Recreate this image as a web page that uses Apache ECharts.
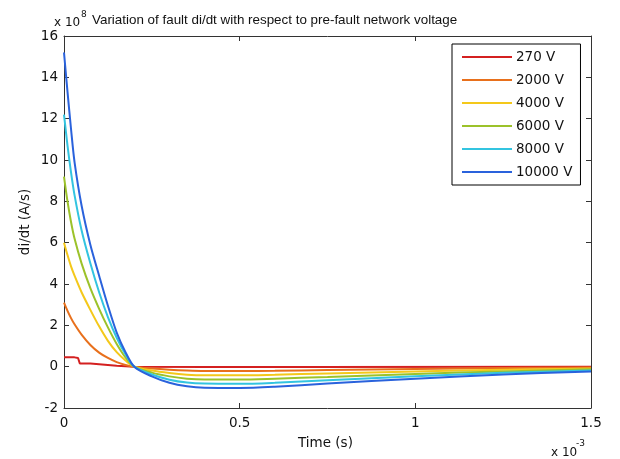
<!DOCTYPE html>
<html>
<head>
<meta charset="utf-8">
<style>
  html, body { margin: 0; padding: 0; background: #fff; }
  #chart { width: 620px; height: 459px; }
</style>
<script src="https://cdn.jsdelivr.net/npm/echarts@6/dist/echarts.min.js"></script>
</head>
<body>
<div id="chart"></div>
<script>
// time in units of 1e-3 s, di/dt in units of 1e8 A/s
const timeMs = [0, 0.01, 0.02, 0.03, 0.05, 0.075, 0.1, 0.125, 0.15, 0.175, 0.2, 0.25, 0.3, 0.35, 0.4, 0.5, 0.6, 0.75, 1.0, 1.25, 1.5]

const v2000 = [3.1, 2.7, 2.35, 2.05, 1.55, 1.05, 0.68, 0.42, 0.22, 0.08, 0, -0.09, -0.15, -0.19, -0.21, -0.21, -0.2, -0.16, -0.11, -0.07, -0.04]
const v4000 = [6.0, 5.4, 4.85, 4.4, 3.6, 2.75, 1.95, 1.25, 0.7, 0.3, 0, -0.19, -0.31, -0.39, -0.42, -0.42, -0.39, -0.33, -0.23, -0.15, -0.09]
const v6000 = [9.2, 8.0, 7.0, 6.2, 5.0, 3.8, 2.8, 1.9, 1.1, 0.45, 0, -0.29, -0.47, -0.58, -0.62, -0.62, -0.58, -0.5, -0.35, -0.23, -0.13]
const v8000 = [12.2, 10.7, 9.4, 8.3, 6.6, 5.0, 3.6, 2.4, 1.4, 0.6, 0, -0.38, -0.63, -0.77, -0.82, -0.83, -0.78, -0.66, -0.46, -0.3, -0.18]
const v10000 = [15.2, 13.3, 11.5, 9.9, 7.8, 5.9, 4.4, 2.95, 1.65, 0.7, 0, -0.47, -0.78, -0.95, -1.02, -1.03, -0.97, -0.82, -0.58, -0.38, -0.23]

// the 270 V trace is step-like
const time270 = [0, 0.03, 0.04, 0.045, 0.075, 0.08, 0.15, 0.2, 0.4, 0.7, 1.5]
const v270 = [0.45, 0.45, 0.42, 0.15, 0.15, 0.08, 0.05, 0, -0.02, -0.02, 0]

const seriesNames = ['270 V', '2000 V', '4000 V', '6000 V', '8000 V', '10000 V']
const seriesColors = ['#d42020', '#e8701c', '#f4c81a', '#9cc22a', '#33c4e0', '#2a62dc']

const xTicks = [0, 0.5, 1, 1.5]
const yTicks = [-2, 0, 2, 4, 6, 8, 10, 12, 14, 16]

const zip = (xs, ys) => xs.map((x, i) => [x, ys[i]])
const seriesValues = [
  zip(time270, v270),
  zip(timeMs, v2000),
  zip(timeMs, v4000),
  zip(timeMs, v6000),
  zip(timeMs, v8000),
  zip(timeMs, v10000),
]

const font = 'Liberation Sans, Arial, sans-serif'
const wideFont = 'DejaVu Sans, sans-serif'
const axisColor = '#333'

const chart = echarts.init(document.getElementById('chart'))

const baseAxis = {
  axisLine: { show: true, onZero: false, lineStyle: { color: axisColor, width: 1 } },
  axisTick: { show: true, inside: true, length: 5, lineStyle: { color: axisColor } },
  splitLine: { show: false },
}

const option = {
  animation: false,
  backgroundColor: '#fff',
  grid: { left: 64, right: 29, top: 36, bottom: 51 },
  legend: {
    data: seriesNames,
    orient: 'vertical',
    left: 452,
    top: 44,
    icon: 'rect',
    itemWidth: 50,
    itemHeight: 2,
    itemGap: 9,
    padding: [6, 8, 6, 10],
    borderColor: '#000',
    borderWidth: 1,
    backgroundColor: '#fff',
    textStyle: { fontFamily: wideFont, fontSize: 13.5, color: '#111', padding: [0, 0, 0, -1] },
  },
  xAxis: [
    {
      ...baseAxis,
      type: 'value',
      min: 0,
      max: 1.5,
      interval: 0.5,
      axisLabel: { margin: 8, fontFamily: wideFont, fontSize: 13.5, color: '#111', formatter: (v) => String(v) },
    },
    {
      ...baseAxis,
      type: 'value',
      position: 'top',
      min: 0,
      max: 1.5,
      interval: 0.5,
      axisLabel: { show: false },
    },
  ],
  yAxis: [
    {
      ...baseAxis,
      type: 'value',
      min: -2,
      max: 16,
      interval: 2,
      axisLabel: { margin: 6, fontFamily: wideFont, fontSize: 13.5, color: '#111' },
    },
    {
      ...baseAxis,
      type: 'value',
      position: 'right',
      min: -2,
      max: 16,
      interval: 2,
      axisLabel: { show: false },
    },
  ],
  series: seriesNames.map((name, i) => ({
    name: name,
    type: 'line',
    data: seriesValues[i],
    showSymbol: false,
    symbol: 'none',
    smooth: i === 0 ? false : 0.3,
    color: seriesColors[i],
    lineStyle: { width: 2, color: seriesColors[i] },
    z: 2 + i,
  })),
  graphic: [
    { type: 'text', left: 54, top: 17, style: { text: 'x 10', font: '12px ' + wideFont, fill: '#111' } },
    { type: 'text', left: 81, top: 10, style: { text: '8', font: '9px ' + wideFont, fill: '#111' } },
    { type: 'text', left: 92, top: 14, style: { text: 'Variation of fault di/dt with respect to pre-fault network voltage', font: '13.4px ' + font, fill: '#111' } },
    { type: 'text', left: 298, top: 436, style: { text: 'Time (s)', font: '13.5px ' + wideFont, fill: '#111' } },
    { type: 'text', left: 551, top: 447, style: { text: 'x 10', font: '12px ' + wideFont, fill: '#111' } },
    { type: 'text', left: 576, top: 439, style: { text: '-3', font: '9px ' + wideFont, fill: '#111' } },
    {
      type: 'text',
      x: 25,
      y: 222,
      rotation: Math.PI / 2,
      style: { text: 'di/dt (A/s)', font: '13.5px ' + wideFont, fill: '#111', align: 'center', verticalAlign: 'middle' },
    },
  ],
}

chart.setOption(option)
</script>
</body>
</html>
